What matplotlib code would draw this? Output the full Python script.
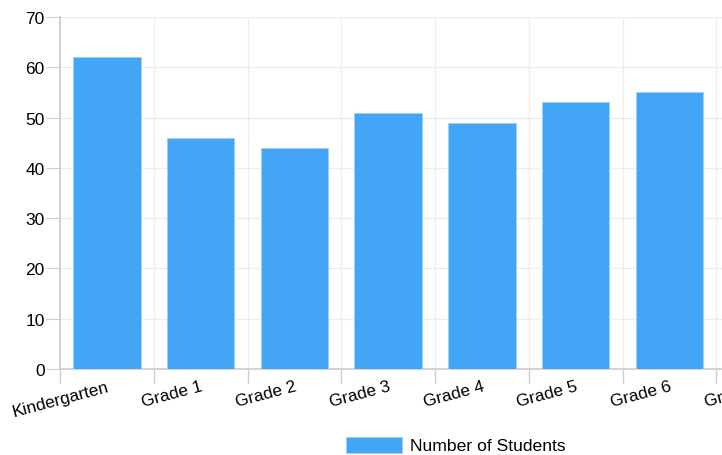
import numpy as np
import matplotlib.pyplot as plt

plt.rcParams['font.family'] = ['Liberation Sans', 'DejaVu Sans']

# === Daten ===
grades = ['Kindergarten', 'Grade 1', 'Grade 2', 'Grade 3', 'Grade 4', 'Grade 5', 'Grade 6']
students = [62, 46, 44, 51, 49, 53, 55]
# the chart is clipped on the right, next category label only partly visible
tick_labels = grades + ['Grade 7']

bar_color = '#42A5F5'

fig = plt.figure(figsize=(7.22, 4.56), dpi=100)
# axes run past the right edge of the figure like in the original
ax = fig.add_axes([60 / 722, 86 / 456, 750 / 722, 352 / 456])

x = np.arange(len(grades))
ax.bar(x, students, width=0.72, color=bar_color, edgecolor='#9ecff7', linewidth=0.6,
       label='Number of Students', zorder=3)

ax.set_xlim(-0.5, len(tick_labels) - 0.5)
ax.set_ylim(0, 70)
ax.set_yticks(range(0, 71, 10))

# labels at category centres, tick marks + grid at category boundaries
ax.set_xticks(np.arange(len(tick_labels)))
ax.set_xticklabels(tick_labels, rotation=15, ha='right', rotation_mode='anchor', fontsize=12.4)
ax.set_xticks(np.arange(len(tick_labels) + 1) - 0.5, minor=True)
ax.tick_params(axis='x', which='major', length=0, pad=7)
ax.tick_params(axis='x', which='minor', length=10, color='#cccccc', width=1)
ax.tick_params(axis='y', length=10, pad=1, color='#cccccc', labelsize=12.5)

ax.grid(True, which='minor', axis='x', color='#eeeeee', linewidth=1, zorder=0)
ax.grid(True, which='major', axis='y', color='#eeeeee', linewidth=1, zorder=0)

for side in ['top', 'right']:
    ax.spines[side].set_visible(False)
for side in ['left', 'bottom']:
    ax.spines[side].set_color('#cccccc')
    ax.spines[side].set_linewidth(1.2)

fig.legend(loc='center left', bbox_to_anchor=(330 / 722, 1 - 446 / 456), frameon=False,
           fontsize=12.6, handlelength=3.2, handleheight=1.03, handletextpad=0.5)

fig.savefig('out.png', dpi=100)
